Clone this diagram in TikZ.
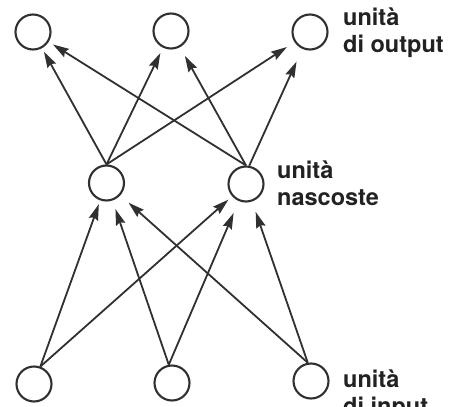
\documentclass[tikz,border=0pt]{standalone}
\usepackage{fontspec}
\setmainfont{TeX Gyre Heros}
\usetikzlibrary{arrows.meta}
\definecolor{ink}{HTML}{303030}
\definecolor{txt}{HTML}{222222}
\tikzset{
  unit/.style={circle, draw=ink, line width=2.1pt, minimum size=35pt, inner sep=0pt},
  link/.style={draw=ink, line width=1.8pt, -{Stealth[length=16pt, width=9.5pt, inset=2pt]}},
  lbl/.style={anchor=base west, inner sep=0pt, text=txt, font=\fontsize{23.5pt}{28pt}\selectfont\bfseries}
}
\begin{document}
\begin{tikzpicture}[x=1pt, y=-1pt]
  \useasboundingbox (0,0) rectangle (462,406);
  \clip (0,0) rectangle (462,406);
  \fill[white] (0,0) rectangle (462,406);

  % output layer
  \node[unit] (oL) at (33,32) {};
  \node[unit] (oM) at (171,31) {};
  \node[unit] (oR) at (310,32) {};
  % hidden layer
  \node[unit] (hL) at (106.5,183) {};
  \node[unit] (hR) at (246,184) {};
  % input layer
  \node[unit] (iL) at (34,384) {};
  \node[unit] (iM) at (172,383) {};
  \node[unit] (iR) at (311,381) {};

  % hidden -> output
  \draw[link, shorten >=4pt]  (hL.north) -- (oL);
  \draw[link, shorten >=5pt]  (hR.north) -- (oL);
  \draw[link, shorten >=6pt]  (hL.north) -- (oM);
  \draw[link, shorten >=10pt] (hR.north) -- (oM);
  \draw[link, shorten >=9pt]  (hL.north) -- (oR);
  \draw[link, shorten >=14pt] (hR.80) -- (oR);

  % input -> hidden
  \draw[link, shorten >=4pt]  (iL.70) -- (hL);
  \draw[link, shorten >=9pt]  (iM.100) -- (hL);
  \draw[link, shorten >=11pt] (iR.100) -- (hL);
  \draw[link, shorten >=5pt]  (iL.70) -- (hR);
  \draw[link, shorten >=13pt] (iM.100) -- (hR);
  \draw[link, shorten >=11pt] (iR.100) -- (hR);

  % layer labels
  \node[lbl] (outA) at (343,26) {unità};
  \node[lbl] (outB) at (343,53) {di output};
  \node[lbl] (hidA) at (277,178) {unità};
  \node[lbl] (hidB) at (277,205) {nascoste};
  \node[lbl] (inA)  at (343,387) {unità};
  \node[lbl] (inB)  at (343,414) {di input};
\end{tikzpicture}
\end{document}
